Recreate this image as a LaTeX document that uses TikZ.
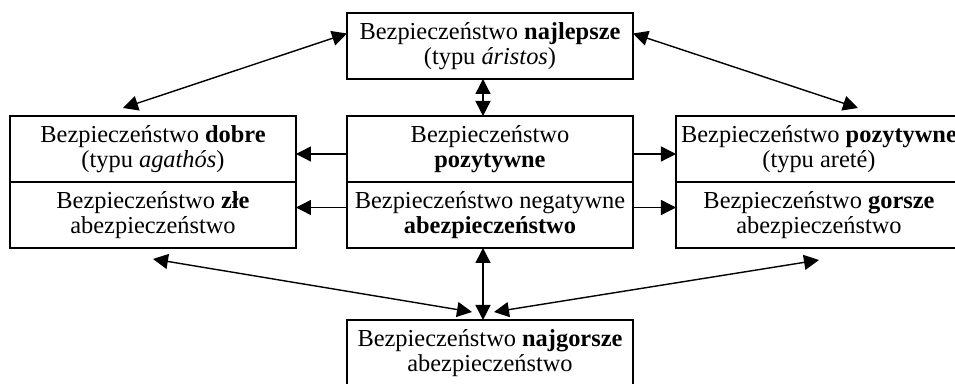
\documentclass[tikz,border=0pt]{standalone}
\usepackage{fontspec}
\setmainfont{Liberation Serif}
\usetikzlibrary{positioning,arrows.meta}

\begin{document}
\begin{tikzpicture}[>={Triangle[length=7.5pt,width=7.5pt]}, line width=0.7pt,
	node distance=23.5pt,
	box/.style={draw, rectangle, align=center,
		minimum width=143pt, minimum height=33pt,
		inner xsep=2pt, outer sep=0pt,
		font=\fontsize{12.2}{12.5}\selectfont}]

\node[box] (posit) {Bezpieczeństwo\\\textbf{pozytywne}};
\node[box, below=0pt of posit] (negat) {Bezpieczeństwo negatywne\\\textbf{abezpieczeństwo}};
\node[box, left=25.5pt of posit] (good) {Bezpieczeństwo \textbf{dobre}\\(typu \textit{agathós})};
\node[box, left=25.5pt of negat] (bad) {Bezpieczeństwo \textbf{złe}\\abezpieczeństwo};
\node[box, right=21.5pt of posit] (virtue) {Bezpieczeństwo \textbf{pozytywne}\\(typu areté)};
\node[box, right=21.5pt of negat] (worse) {Bezpieczeństwo \textbf{gorsze}\\abezpieczeństwo};
\node[box, above=18.5pt of posit] (best) {Bezpieczeństwo \textbf{najlepsze}\\(typu \textit{áristos})};
\node[box, below=36pt of negat] (worst) {Bezpieczeństwo \textbf{najgorsze}\\abezpieczeństwo};

\draw[<->] (best.175) -- ([xshift=-15pt,yshift=4pt]good.north);
\draw[<->] (best.5) -- ([xshift=19.5pt,yshift=4pt]virtue.north);
\draw[<->] ([xshift=-3.5pt]best.south) -- ([xshift=-3.5pt]posit.north);

\draw[->] (posit.182) -- (good.358);
\draw[->] (negat.177) -- (bad.3);
\draw[->] (posit.358) -- (virtue.182);
\draw[->] (negat.3) -- (worse.177);

\draw[<->] ([xshift=-3.5pt]negat.south) -- ([xshift=-3.5pt]worst.north);
\draw[<->] ([yshift=-5.5pt]bad.south) -- ([xshift=-9pt,yshift=4pt]worst.north);
\draw[<->] ([yshift=-6pt]worse.south) -- ([xshift=2pt,yshift=4pt]worst.north);

\pgfresetboundingbox
\useasboundingbox ([xshift=-173.5pt,yshift=58pt]posit.north west) rectangle ++(477.5pt,-192pt);
\end{tikzpicture}
\end{document}
